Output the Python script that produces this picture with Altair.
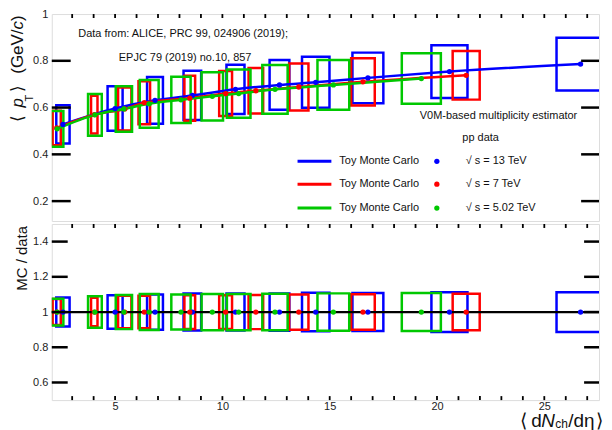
import altair as alt
import pandas as pd

# ---- data ----
series_names = ["13 TeV", "7 TeV", "5.02 TeV"]
series_colors = ["#0000ff", "#ff0000", "#00c800"]

b_x = [2.57, 5.00, 6.86, 8.60, 10.61, 12.66, 14.35, 16.78, 20.58, 26.69]
b_xerr = [0.31, 0.35, 0.37, 0.41, 0.42, 0.46, 0.64, 0.72, 0.84, 1.12]
b_pt = [0.528, 0.596, 0.631, 0.652, 0.678, 0.697, 0.708, 0.727, 0.754, 0.786]
b_pterr = [0.082, 0.095, 0.100, 0.105, 0.105, 0.106, 0.109, 0.108, 0.113, 0.113]
b_mc = [0.528, 0.596, 0.631, 0.652, 0.678, 0.697, 0.708, 0.727, 0.754, 0.786]
b_ratio = [1.0, 1.0, 1.0, 1.0, 1.0, 1.0, 1.0, 1.0, 1.0, 1.0]

r_x = [2.28, 4.03, 5.45, 6.36, 8.48, 10.15, 11.56, 13.56, 16.55, 21.36]
r_xerr = [0.19, 0.15, 0.31, 0.27, 0.25, 0.30, 0.34, 0.45, 0.55, 0.63]
r_pt = [0.513, 0.570, 0.594, 0.621, 0.640, 0.660, 0.672, 0.688, 0.710, 0.738]
r_pterr = [0.074, 0.081, 0.092, 0.092, 0.096, 0.096, 0.097, 0.100, 0.101, 0.104]
r_mc = [0.513, 0.570, 0.594, 0.621, 0.640, 0.660, 0.672, 0.688, 0.710, 0.738]
r_ratio = [1.0, 1.0, 1.0, 1.0, 1.0, 1.0, 1.0, 1.0, 1.0, 1.0]

g_x = [2.30, 4.06, 5.41, 6.59, 8.07, 9.53, 10.76, 12.45, 15.17, 19.27]
g_xerr = [0.29, 0.32, 0.38, 0.44, 0.45, 0.50, 0.55, 0.59, 0.74, 0.91]
g_pt = [0.509, 0.569, 0.594, 0.616, 0.633, 0.648, 0.660, 0.678, 0.697, 0.724]
g_pterr = [0.076, 0.089, 0.097, 0.102, 0.099, 0.103, 0.103, 0.104, 0.106, 0.108]
g_mc = [0.509, 0.569, 0.594, 0.616, 0.633, 0.648, 0.660, 0.678, 0.697, 0.724]
g_ratio = [1.0, 1.0, 1.0, 1.0, 1.0, 1.0, 1.0, 1.0, 1.0, 1.0]

x_labels = [5, 10, 15, 20, 25]
x_minor = list(range(3, 28))
top_y_labels = [0.2, 0.4, 0.6, 0.8, 1.0]
top_y_ticks = [0.2, 0.4, 0.6, 0.8]
bot_y_labels = [0.6, 0.8, 1.0, 1.2, 1.4]

FONT = "Liberation Sans"
W, H_TOP, H_BOT = 550, 208, 177


def make_df(name, x, xe, pt, pte, mc, ratio):
    rows = []
    for i in range(len(x)):
        rows.append({
            "series": name, "x": x[i], "x_lo": x[i] - xe[i], "x_hi": x[i] + xe[i],
            "pt": pt[i], "pt_lo": pt[i] - pte[i], "pt_hi": pt[i] + pte[i],
            "mc": mc[i], "ratio": ratio[i],
            "r_lo": ratio[i] - pte[i], "r_hi": ratio[i] + pte[i],
        })
    return pd.DataFrame(rows)


df = pd.concat([
    make_df("13 TeV", b_x, b_xerr, b_pt, b_pterr, b_mc, b_ratio),
    make_df("7 TeV", r_x, r_xerr, r_pt, r_pterr, r_mc, r_ratio),
    make_df("5.02 TeV", g_x, g_xerr, g_pt, g_pterr, g_mc, g_ratio),
], ignore_index=True)

xscale = alt.Scale(domain=[2.05, 27.55], nice=False, zero=False)
yscale_top = alt.Scale(domain=[0.115, 1.0], nice=False, zero=False)
yscale_bot = alt.Scale(domain=[0.5, 1.5], nice=False, zero=False)
cscale = alt.Scale(domain=series_names, range=series_colors)
dummy = pd.DataFrame({"d": [0]})


def txt(text, x, y, size=11, angle=None, align="left", baseline="middle", style="normal", color="#111"):
    kw = dict(text=text, font=FONT, fontSize=size, align=align, baseline=baseline,
              fontStyle=style, color=color)
    if angle is not None:
        kw["angle"] = angle
    return alt.Chart(dummy).mark_text(**kw).encode(x=alt.value(x), y=alt.value(y))


def xticks_layer(y0, y1):
    return alt.Chart(pd.DataFrame({"v": x_minor})).mark_rule(color="black", strokeWidth=1.8).encode(
        x=alt.X("v:Q", scale=xscale), y=alt.value(y0), y2=alt.value(y1))


def yticks_layer(vals, yscale, x0, x1):
    return alt.Chart(pd.DataFrame({"v": vals})).mark_rule(color="black", strokeWidth=2.5).encode(
        y=alt.Y("v:Q", scale=yscale), x=alt.value(x0), x2=alt.value(x1))


x_axis_none = alt.Axis(labels=False, ticks=False, domain=False, grid=False, title=None)


def y_axis(values):
    return alt.Axis(values=values, ticks=False, tickSize=0, domain=False, grid=False,
                    title=None, labelFont=FONT, labelFontSize=11, labelColor="#222",
                    labelPadding=4, labelFlush=False,
                    labelExpr="datum.value == 1 ? '1' : format(datum.value, '.1f')")


# ---------------- top panel ----------------
top_boxes = alt.Chart(df).mark_rect(fillOpacity=0, strokeWidth=2.5, clip=True).encode(
    x=alt.X("x_lo:Q", scale=xscale, axis=x_axis_none),
    x2="x_hi:Q",
    y=alt.Y("pt_lo:Q", scale=yscale_top, axis=y_axis(top_y_labels)),
    y2="pt_hi:Q",
    stroke=alt.Color("series:N", scale=cscale, legend=None),
)
top_lines = alt.Chart(df).mark_line(strokeWidth=2.5, interpolate="monotone").encode(
    x=alt.X("x:Q", scale=xscale), y=alt.Y("mc:Q", scale=yscale_top),
    color=alt.Color("series:N", scale=cscale, legend=None),
    detail="series:N",
)
top_dots = alt.Chart(df).mark_circle(size=28, opacity=1).encode(
    x=alt.X("x:Q", scale=xscale), y=alt.Y("pt:Q", scale=yscale_top),
    color=alt.Color("series:N", scale=cscale, legend=None),
)

top_layers = [top_boxes, top_lines, top_dots,
              xticks_layer(0, 4),
              yticks_layer(top_y_ticks, yscale_top, 0, 19),
              yticks_layer(top_y_ticks, yscale_top, W - 18, W)]

# annotations
top_layers += [
    txt("Data from: ALICE, PRC 99, 024906 (2019);", 132, 20, align="center"),
    txt("EPJC 79 (2019) no.10, 857", 134, 44, align="center"),
    txt("V0M-based multiplicity estimator", 449, 102, align="center"),
    txt("pp data", 431, 125, align="center"),
]
legend_y = [148, 171, 195]
legend_lbl = ["\u221a s = 13 TeV", "\u221a s = 7 TeV", "\u221a s = 5.02 TeV"]
for i in range(3):
    top_layers.append(alt.Chart(dummy).mark_rule(color=series_colors[i], strokeWidth=3).encode(
        x=alt.value(247), x2=alt.value(281), y=alt.value(legend_y[i])))
    top_layers.append(txt("Toy Monte Carlo", 289, legend_y[i]))
    top_layers.append(alt.Chart(dummy).mark_circle(size=28, opacity=1, color=series_colors[i]).encode(
        x=alt.value(387), y=alt.value(legend_y[i])))
    top_layers.append(txt(legend_lbl[i], 416, legend_y[i]))

# y title pieces (rotated)
top_layers += [
    txt("\u27e8", -29, 109, size=17, angle=270, baseline="alphabetic"),
    txt("p", -29, 94, size=17, angle=270, baseline="alphabetic", style="italic"),
    txt("T", -19, 88, size=11, angle=270, baseline="alphabetic"),
    txt("\u27e9", -29, 78, size=17, angle=270, baseline="alphabetic"),
    txt("(GeV/", -29, 60, size=17, angle=270, baseline="alphabetic"),
    txt("c", -29, 15.6, size=17, angle=270, baseline="alphabetic", style="italic"),
    txt(")", -29, 7.1, size=17, angle=270, baseline="alphabetic"),
]

top = alt.layer(*top_layers).properties(width=W, height=H_TOP)

# ---------------- bottom panel ----------------
bot_boxes = alt.Chart(df).mark_rect(fillOpacity=0, strokeWidth=2.5, clip=True).encode(
    x=alt.X("x_lo:Q", scale=xscale,
            axis=alt.Axis(values=x_labels, ticks=False, tickSize=0, domain=False, grid=False,
                          title=None, labelFont=FONT, labelFontSize=11, labelColor="#222",
                          labelPadding=0, labelFlush=False)),
    x2="x_hi:Q",
    y=alt.Y("r_lo:Q", scale=yscale_bot, axis=y_axis(bot_y_labels)),
    y2="r_hi:Q",
    stroke=alt.Color("series:N", scale=cscale, legend=None),
)
unity = alt.Chart(pd.DataFrame({"one": [1.0]})).mark_rule(color="black", strokeWidth=2.2).encode(
    y=alt.Y("one:Q", scale=yscale_bot))
bot_dots = alt.Chart(df).mark_circle(size=28, opacity=1).encode(
    x=alt.X("x:Q", scale=xscale), y=alt.Y("ratio:Q", scale=yscale_bot),
    color=alt.Color("series:N", scale=cscale, legend=None),
)
bot_layers = [bot_boxes, unity, bot_dots,
              xticks_layer(0, 4), xticks_layer(H_BOT - 4, H_BOT),
              yticks_layer(bot_y_labels, yscale_bot, 0, 16),
              yticks_layer(bot_y_labels, yscale_bot, W - 15, W),
              txt("MC / data", -25, 67, size=15, angle=270, baseline="alphabetic"),
              # x title pieces
              txt("\u27e8", 471, 204, size=19, baseline="alphabetic"),
              txt("d", 482, 204, size=19, baseline="alphabetic"),
              txt("N", 492, 204, size=19, baseline="alphabetic", style="italic"),
              txt("ch", 506, 205, size=12, baseline="alphabetic"),
              txt("/d\u03b7", 519, 204, size=19, baseline="alphabetic"),
              txt("\u27e9", 547, 204, size=19, baseline="alphabetic"),
              ]
bottom = alt.layer(*bot_layers).properties(width=W, height=H_BOT)

chart = alt.vconcat(top, bottom, spacing=0).properties(
    padding={"left": 0, "top": -2, "right": 0, "bottom": 0}
).configure_view(stroke="black", strokeWidth=2.2).configure(background="white")

chart.save("out.html", embed_options={"renderer": "svg", "actions": False})
